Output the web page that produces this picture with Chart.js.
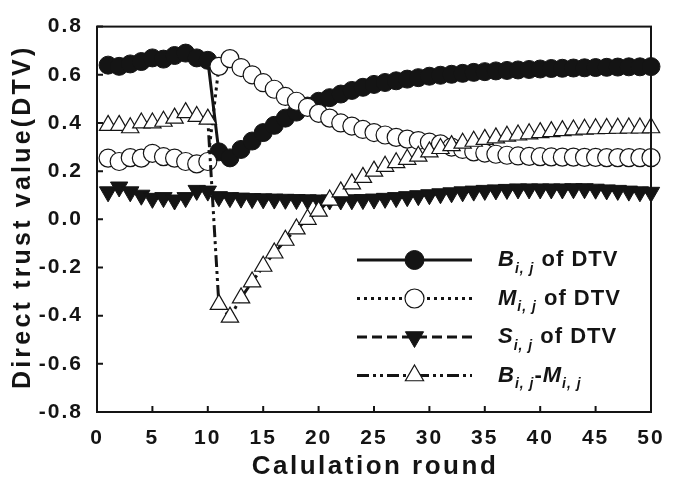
<!DOCTYPE html>
<html>
<head>
<meta charset="utf-8">
<title>Direct trust value</title>
<script src="https://cdn.jsdelivr.net/npm/chart.js@4.4.1/dist/chart.umd.min.js"></script>
<style>
  html, body { margin: 0; padding: 0; background: #ffffff; }
  #wrap { width: 681px; height: 483px; }
</style>
</head>
<body>
<div id="wrap"><canvas id="dtvChart" width="681" height="483"></canvas></div>
<script>
// calculation rounds 1..50
const rounds = [1, 2, 3, 4, 5, 6, 7, 8, 9, 10, 11, 12, 13, 14, 15, 16, 17, 18, 19, 20,
  21, 22, 23, 24, 25, 26, 27, 28, 29, 30, 31, 32, 33, 34, 35, 36, 37, 38, 39, 40,
  41, 42, 43, 44, 45, 46, 47, 48, 49, 50];

// B(i,j) of DTV
const dtvB = [0.64, 0.635, 0.645, 0.655, 0.67, 0.665, 0.68, 0.69, 0.67, 0.66,
  0.28, 0.255, 0.29, 0.325, 0.36, 0.39, 0.42, 0.445, 0.47, 0.49,
  0.505, 0.52, 0.535, 0.548, 0.56, 0.568, 0.575, 0.582, 0.588, 0.594,
  0.598, 0.602, 0.606, 0.61, 0.613, 0.616, 0.618, 0.62, 0.622, 0.624,
  0.626, 0.627, 0.628, 0.629, 0.63, 0.631, 0.632, 0.633, 0.633, 0.634];

// M(i,j) of DTV
const dtvM = [0.254, 0.24, 0.256, 0.254, 0.274, 0.26, 0.254, 0.24, 0.23, 0.24,
  0.635, 0.667, 0.63, 0.6, 0.567, 0.54, 0.51, 0.49, 0.465, 0.44,
  0.42, 0.4, 0.387, 0.373, 0.36, 0.35, 0.34, 0.333, 0.327, 0.32,
  0.313, 0.3, 0.29, 0.28, 0.275, 0.27, 0.266, 0.263, 0.261, 0.26,
  0.259, 0.258, 0.258, 0.257, 0.257, 0.256, 0.256, 0.256, 0.256, 0.256];

// S(i,j) of DTV
const dtvS = [0.114, 0.134, 0.114, 0.1, 0.087, 0.09, 0.08, 0.09, 0.12, 0.117,
  0.094, 0.09, 0.088, 0.086, 0.085, 0.084, 0.083, 0.082, 0.081, 0.08,
  0.08, 0.08, 0.081, 0.082, 0.084, 0.087, 0.09, 0.094, 0.098, 0.102,
  0.106, 0.11, 0.114, 0.117, 0.12, 0.122, 0.124, 0.126, 0.126, 0.126,
  0.126, 0.126, 0.127, 0.127, 0.125, 0.122, 0.12, 0.117, 0.114, 0.112];

// B(i,j) - M(i,j)
const dtvBM = [0.39, 0.39, 0.38, 0.4, 0.4, 0.407, 0.42, 0.443, 0.427, 0.416,
  -0.353, -0.406, -0.326, -0.26, -0.195, -0.14, -0.087, -0.04, 0.0, 0.034,
  0.08, 0.114, 0.147, 0.174, 0.2, 0.22, 0.235, 0.249, 0.262, 0.28,
  0.294, 0.306, 0.316, 0.324, 0.332, 0.338, 0.345, 0.35, 0.355, 0.36,
  0.364, 0.368, 0.371, 0.374, 0.376, 0.377, 0.378, 0.379, 0.379, 0.38];

const xTicks = [0, 5, 10, 15, 20, 25, 30, 35, 40, 45, 50];
const xTickLabels = ['0', '5', '10', '15', '20', '25', '30', '35', '40', '45', '50'];
const yTicks = [-0.8, -0.6, -0.4, -0.2, 0, 0.2, 0.4, 0.6, 0.8];
const yTickLabels = ['-0.8', '-0.6', '-0.4', '-0.2', '0.0', '0.2', '0.4', '0.6', '0.8'];

const xTitle = 'Calulation round';
const yTitle = 'Direct trust value(DTV)';

const INK = '#141414';
const FONT = '"Liberation Sans", Arial, sans-serif';

const toPoints = vals => rounds.map((r, i) => ({ x: r, y: vals[i] }));

// legend rows: [text, style] pieces, n = normal bold, i = italic, s = subscript
const legendRows = [
  { ds: 0, parts: [['B', 'i'], ['i, j', 's'], [' of DTV', 'n']] },
  { ds: 1, parts: [['M', 'i'], ['i, j', 's'], [' of DTV', 'n']] },
  { ds: 2, parts: [['S', 'i'], ['i, j', 's'], [' of DTV', 'n']] },
  { ds: 3, parts: [['B', 'i'], ['i, j', 's'], ['-', 'n'], ['M', 'i'], ['i, j', 's']] }
];

// box, inward tick marks and spaced-out axis titles
const framePlugin = {
  id: 'frame',
  beforeDraw(chart) {
    chart.ctx.letterSpacing = '2px';
  },
  afterDatasetsDraw(chart) {
    const { ctx, chartArea: a, scales: { x, y } } = chart;
    ctx.save();
    ctx.setLineDash([]);
    ctx.strokeStyle = INK;
    ctx.lineWidth = 2;
    ctx.strokeRect(a.left, a.top, a.right - a.left, a.bottom - a.top);
    ctx.beginPath();
    x.ticks.forEach(t => {
      const px = x.getPixelForValue(t.value);
      ctx.moveTo(px, a.bottom);
      ctx.lineTo(px, a.bottom - 6);
    });
    y.ticks.forEach(t => {
      const py = y.getPixelForValue(t.value);
      ctx.moveTo(a.left, py);
      ctx.lineTo(a.left + 6, py);
    });
    ctx.stroke();

    ctx.fillStyle = INK;
    ctx.textAlign = 'center';
    ctx.textBaseline = 'middle';
    ctx.font = 'bold 26px ' + FONT;
    ctx.letterSpacing = '2.5px';
    ctx.fillText(xTitle, (a.left + a.right) / 2 + 1, 467);

    ctx.translate(23, (a.top + a.bottom) / 2 - 1);
    ctx.rotate(-Math.PI / 2);
    ctx.font = 'bold 25px ' + FONT;
    ctx.letterSpacing = '3.2px';
    ctx.fillText(yTitle, 1.5, 0);
    ctx.restore();
  }
};

// legend with subscripted series names
const legendPlugin = {
  id: 'dtvLegend',
  afterDraw(chart) {
    const ctx = chart.ctx;
    const x0 = 357, x1 = 472, xm = 414.5, tx = 498;
    const rowY = [260, 298.5, 337, 375.5];
    ctx.save();
    ctx.letterSpacing = '1px';
    legendRows.forEach((row, k) => {
      const ds = chart.data.datasets[row.ds];
      const y = rowY[k];
      ctx.setLineDash(ds.borderDash || []);
      ctx.lineWidth = ds.borderWidth;
      ctx.strokeStyle = INK;
      ctx.beginPath();
      ctx.moveTo(x0, y);
      ctx.lineTo(x1, y);
      ctx.stroke();
      ctx.setLineDash([]);
      ctx.lineWidth = ds.pointBorderWidth;
      ctx.fillStyle = ds.pointBackgroundColor;
      ctx.strokeStyle = ds.pointBorderColor;
      Chart.helpers.drawPoint(ctx, {
        pointStyle: ds.pointStyle,
        rotation: ds.pointRotation || 0,
        radius: ds.pointRadius + 0.5,
        borderWidth: ds.pointBorderWidth
      }, xm, y);

      let x = tx;
      ctx.fillStyle = INK;
      ctx.textBaseline = 'middle';
      ctx.textAlign = 'left';
      row.parts.forEach(([txt, st]) => {
        let yy = y;
        if (st === 'i') ctx.font = 'italic bold 22px ' + FONT;
        else if (st === 's') { ctx.font = 'italic bold 14px ' + FONT; yy = y + 9; }
        else ctx.font = 'bold 22px ' + FONT;
        ctx.fillText(txt, x, yy);
        x += ctx.measureText(txt).width;
      });
    });
    ctx.restore();
  }
};

new Chart(document.getElementById('dtvChart'), {
  type: 'line',
  data: {
    datasets: [
      {
        label: 'B of DTV', data: toPoints(dtvB), order: 4,
        borderColor: INK, borderWidth: 3,
        pointStyle: 'circle', pointRadius: 9, pointBorderWidth: 1,
        pointBackgroundColor: INK, pointBorderColor: INK,
        clip: false, tension: 0
      },
      {
        label: 'M of DTV', data: toPoints(dtvM), order: 3,
        borderColor: INK, borderWidth: 3, borderDash: [3, 4],
        pointStyle: 'circle', pointRadius: 9, pointBorderWidth: 1.2,
        pointBackgroundColor: '#ffffff', pointBorderColor: INK,
        clip: false, tension: 0
      },
      {
        label: 'S of DTV', data: toPoints(dtvS), order: 2,
        borderColor: INK, borderWidth: 3, borderDash: [10, 5],
        pointStyle: 'triangle', pointRotation: 180, pointRadius: 10, pointBorderWidth: 1,
        pointBackgroundColor: INK, pointBorderColor: INK,
        clip: false, tension: 0
      },
      {
        label: 'B-M', data: toPoints(dtvBM), order: 1,
        borderColor: INK, borderWidth: 3, borderDash: [12, 4, 3, 4, 3, 4],
        pointStyle: 'triangle', pointRadius: 10, pointBorderWidth: 1.2,
        pointBackgroundColor: '#ffffff', pointBorderColor: INK,
        clip: false, tension: 0
      }
    ]
  },
  options: {
    responsive: false,
    animation: false,
    events: [],
    layout: { padding: { top: 12, right: 30, bottom: 0, left: 0 } },
    plugins: {
      legend: { display: false },
      tooltip: { enabled: false }
    },
    scales: {
      x: {
        type: 'linear', min: 0, max: 50,
        afterFit: s => { s.height = 71; },
        afterBuildTicks: s => { s.ticks = xTicks.map(v => ({ value: v })); },
        grid: { display: false, drawTicks: false },
        border: { display: false },
        ticks: {
          color: INK, padding: 14, maxRotation: 0, autoSkip: false,
          font: { family: FONT, size: 21, weight: 'bold' },
          callback: (v, i) => xTickLabels[i]
        }
      },
      y: {
        type: 'linear', min: -0.8, max: 0.8,
        afterFit: s => { s.width = 97; },
        afterBuildTicks: s => { s.ticks = yTicks.map(v => ({ value: v })); },
        grid: { display: false, drawTicks: false },
        border: { display: false },
        ticks: {
          color: INK, padding: 14, autoSkip: false,
          font: { family: FONT, size: 21, weight: 'bold' },
          callback: (v, i) => yTickLabels[i]
        }
      }
    }
  },
  plugins: [framePlugin, legendPlugin]
});
</script>
</body>
</html>
